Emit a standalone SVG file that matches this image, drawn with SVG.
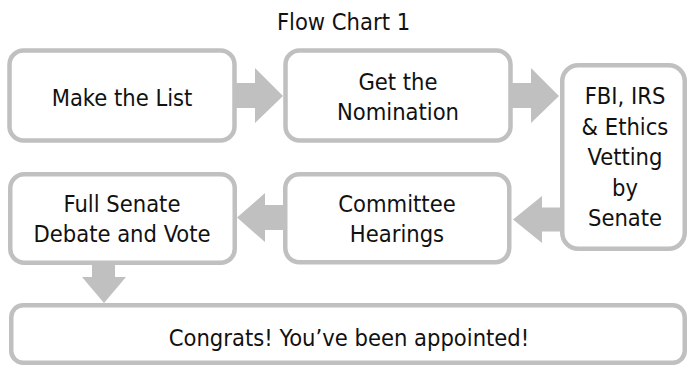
<svg xmlns="http://www.w3.org/2000/svg" width="687" height="366" viewBox="0 0 687 366">
  <style>
    .box { fill: #ffffff; stroke: #c0c0c0; stroke-width: 4.5; }
    .lbl { font-family: "DejaVu Sans Condensed", "Liberation Sans", sans-serif; font-size: 23.5px; fill: #111111; text-anchor: middle; }
    .arrow { fill: #c0c0c0; stroke: none; }
  </style>
  <rect width="687" height="366" fill="#ffffff"/>
  <text id="title" class="lbl" x="343.5" y="30">Flow Chart 1</text>

  <g id="connectors">
    <polygon class="arrow" points="235,83 255,83 255,68 283,96 255,123 255,108 235,108"/>
    <polygon class="arrow" points="511,83 531,83 531,68 559,96 531,123 531,108 511,108"/>
    <polygon class="arrow" points="562,207.5 542,207.5 542,196 513,219.5 542,243 542,231.5 562,231.5"/>
    <polygon class="arrow" points="285,205 265,205 265,193 237,217.5 265,242 265,230 285,230"/>
    <polygon class="arrow" points="92,262 115,262 115,277 126,277 104,303 82,277 92,277"/>
  </g>

  <g id="make-list">
    <rect class="box" x="9.5" y="50.5" width="225" height="90" rx="14"/>
    <text class="lbl" x="122" y="106">Make the List</text>
  </g>

  <g id="nomination">
    <rect class="box" x="285.5" y="50.5" width="225" height="90" rx="14"/>
    <text class="lbl" x="398" y="90">Get the</text>
    <text class="lbl" x="398" y="120">Nomination</text>
  </g>

  <g id="vetting">
    <rect class="box" x="562.25" y="65.25" width="122.5" height="183.5" rx="16"/>
    <text class="lbl" x="625" y="104">FBI, IRS</text>
    <text class="lbl" x="625" y="134.5">&amp; Ethics</text>
    <text class="lbl" x="625" y="165">Vetting</text>
    <text class="lbl" x="625" y="195.5">by</text>
    <text class="lbl" x="625" y="226">Senate</text>
  </g>

  <g id="hearings">
    <rect class="box" x="285.25" y="174.25" width="224" height="88" rx="14"/>
    <text class="lbl" x="397" y="212">Committee</text>
    <text class="lbl" x="397" y="242">Hearings</text>
  </g>

  <g id="full-senate">
    <rect class="box" x="10.25" y="174.25" width="224.5" height="88.5" rx="14"/>
    <text class="lbl" x="122" y="212">Full Senate</text>
    <text class="lbl" x="122" y="242">Debate and Vote</text>
  </g>

  <g id="appointed">
    <rect class="box" x="11.25" y="305.25" width="673.5" height="57.5" rx="12"/>
    <text class="lbl" x="349" y="346">Congrats! You’ve been appointed!</text>
  </g>
</svg>
